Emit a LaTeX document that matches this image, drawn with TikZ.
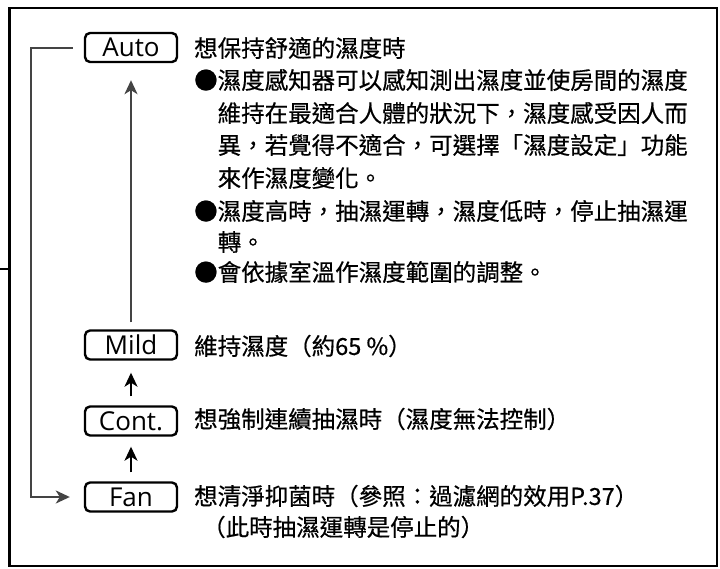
\documentclass[tikz,border=0pt]{standalone}
\usepackage{fontspec}
\newfontfamily\cjk[FakeBold=0.5]{Noto Sans CJK TC}
\newfontfamily\lblfont{Open Sans}
\usetikzlibrary{arrows.meta}
\definecolor{linegray}{HTML}{444444}
\tikzset{
  modebox/.style={draw=black, line width=2.4pt, rounded corners=5pt, minimum width=92pt, minimum height=29pt, inner sep=0pt, font=\lblfont\fontsize{26}{28}\selectfont},
  txt/.style={anchor=west, inner sep=0pt, font=\cjk\fontsize{23.5}{28}\selectfont},
  arr/.style={line width=2pt, -{Stealth[length=14pt,width=13pt,inset=4pt]}},
  grayarr/.style={draw=linegray, line width=2pt, -{Stealth[length=14pt,width=13pt,inset=4pt]}},
}
\begin{document}
\begin{tikzpicture}[x=1pt,y=-1pt]
\useasboundingbox (0,0) rectangle (720,568);
% frame
\draw[line width=2.5pt] (9.5,8) rectangle (717,566);
\coordinate (stubA) at (0,269);
\coordinate (stubB) at (9.5,269);
\draw[line width=2pt] (stubA) -- (stubB);
% mode boxes
\node[modebox] (auto) at (131,47.5) {Auto};
\node[modebox] (mild) at (131,345) {Mild};
\node[modebox] (cont) at (131,421) {Cont.};
\node[modebox] (fan)  at (131,497) {Fan};
% connectors
\draw[grayarr] ([yshift=7pt]mild.north) -- ([yshift=-17pt]auto.south);
\draw[arr] ([yshift=9pt]cont.north) -- ([yshift=-12pt]mild.south);
\draw[arr] ([yshift=9pt]fan.north) -- ([yshift=-10pt]cont.south);
\draw[grayarr] ([xshift=-11pt]auto.west) -- ++(-42,0) |- ([xshift=-14pt]fan.west);
% texts
\node[txt] (t1) at (194,48) {想保持舒適的濕度時};
\node[txt] (t2) at (194,80) {●濕度感知器可以感知測出濕度並使房間的濕度};
\node[txt] (t3) at (217.5,113) {維持在最適合人體的狀況下，濕度感受因人而};
\node[txt] (t4) at (217.5,145) {異，若覺得不適合，可選擇「濕度設定」功能};
\node[txt] (t5) at (217.5,178) {來作濕度變化。};
\node[txt] (t6) at (194,211) {●濕度高時，抽濕運轉，濕度低時，停止抽濕運};
\node[txt] (t7) at (217.5,242) {轉。};
\node[txt] (t8) at (194,272) {●會依據室溫作濕度範圍的調整。};
\node[txt] (m1) at (194,346) {維持濕度（約65 \%）};
\node[txt] (c1) at (194,419) {想強制連續抽濕時（濕度無法控制）};
\node[txt] (f1) at (194,496) {想清淨抑菌時（參照：過濾網的效用P.37）};
\node[txt] (f2) at (202,527) {（此時抽濕運轉是停止的）};
\end{tikzpicture}
\end{document}
